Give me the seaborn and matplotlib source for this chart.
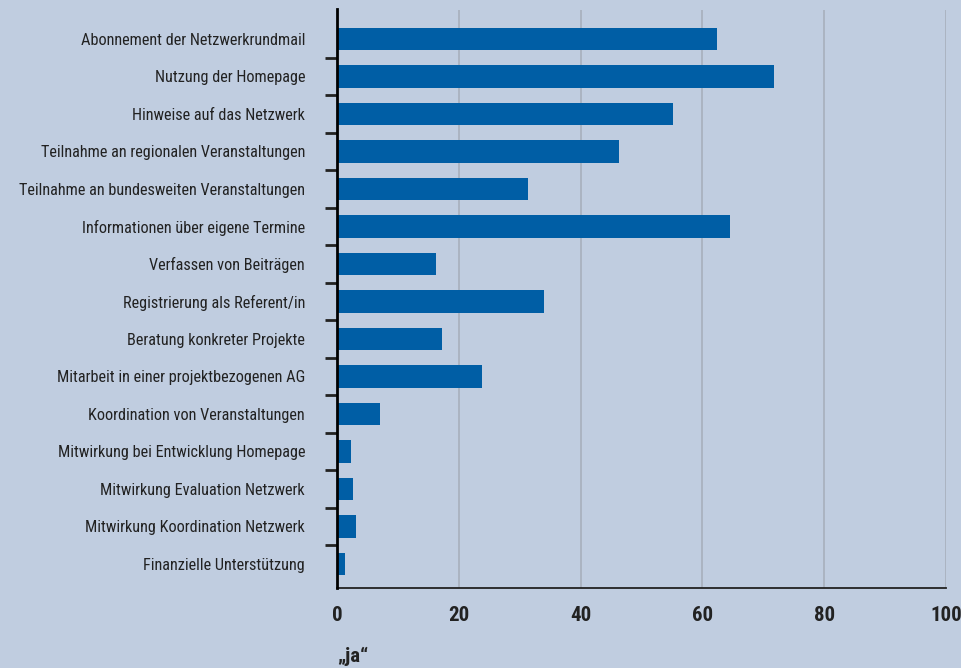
import matplotlib
matplotlib.use('Agg')
import matplotlib.pyplot as plt
from matplotlib import font_manager
import seaborn as sns
import pandas as pd

# Categories and share of "ja" answers (in percent)
categories = [
    'Abonnement der Netzwerkrundmail',
    'Nutzung der Homepage',
    'Hinweise auf das Netzwerk',
    'Teilnahme an regionalen Veranstaltungen',
    'Teilnahme an bundesweiten Veranstaltungen',
    'Informationen über eigene Termine',
    'Verfassen von Beiträgen',
    'Registrierung als Referent/in',
    'Beratung konkreter Projekte',
    'Mitarbeit in einer projektbezogenen AG',
    'Koordination von Veranstaltungen',
    'Mitwirkung bei Entwicklung Homepage',
    'Mitwirkung Evaluation Netzwerk',
    'Mitwirkung Koordination Netzwerk',
    'Finanzielle Unterstützung',
]
values = [62.4, 71.8, 55.2, 46.3, 31.4, 64.5, 16.3, 34.0, 17.2, 23.8, 7.1, 2.3, 2.6, 3.1, 1.3]
x_ticks = [0, 20, 40, 60, 80, 100]

df = pd.DataFrame({'kategorie': categories, 'ja': values})

bg = '#c0cde0'
bar_color = '#005ea5'
grid_color = '#a7b0bc'
text_color = '#222222'

sns.set_style('white')

# pick a narrow font if one is there
fonts = font_manager.fontManager.ttflist
names = {f.name for f in fonts}
stretch = 'normal'
if 'Roboto Condensed' in names:
    family = 'Roboto Condensed'
elif 'Liberation Sans Narrow' in names:
    family = 'Liberation Sans Narrow'
elif any(f.name == 'DejaVu Sans' and f.stretch == 'condensed' for f in fonts):
    family = 'DejaVu Sans'
    stretch = 'condensed'
else:
    family = 'Roboto'
plt.rcParams['font.family'] = [family, 'DejaVu Sans']
plt.rcParams['font.stretch'] = stretch

fig = plt.figure(figsize=(9.61, 6.68), dpi=100, facecolor=bg)
ax = fig.add_axes([0.3507, 0.1198, 0.6337, 0.8652])
ax.set_facecolor(bg)

sns.barplot(data=df, x='ja', y='kategorie', color=bar_color, width=0.6,
            saturation=1, linewidth=0, edgecolor='none', ax=ax, zorder=3)

ax.set_xlim(0, 100)
ax.set_ylim(14.64, -0.77)
ax.set_xticks(x_ticks)
ax.set_xticklabels([str(t) for t in x_ticks], fontsize=15, fontweight='bold', color=text_color)
ax.grid(axis='x', color=grid_color, linewidth=1.2, zorder=0)
ax.grid(axis='y', visible=False)

for s in ['top', 'right']:
    ax.spines[s].set_visible(False)
ax.spines['left'].set_color('black')
ax.spines['left'].set_linewidth(2)
ax.spines['left'].set_zorder(5)
ax.spines['bottom'].set_color(text_color)
ax.spines['bottom'].set_linewidth(1.3)
ax.spines['left'].set_bounds(14.64, -0.8)

ax.tick_params(axis='x', length=9, width=1.2, color=grid_color, pad=4)
ax.xaxis.get_major_ticks()[0].tick1line.set_color('black')
ax.xaxis.get_major_ticks()[0].tick1line.set_markeredgewidth(2.5)

ax.tick_params(axis='y', which='major', length=0, pad=23, labelsize=11, labelcolor=text_color)
ax.set_yticks([i + 0.5 for i in range(len(categories) - 1)], minor=True)
ax.tick_params(axis='y', which='minor', length=9, width=2, color=text_color, left=True)

ax.set_xlabel('')
ax.set_ylabel('')

fig.text(0.351, 0.009, '„ja“', fontsize=15, fontweight='bold', color=text_color)

# fit the category label size to the width in the reference
fig.canvas.draw()
r = fig.canvas.get_renderer()
w = ax.get_yticklabels()[4].get_window_extent(r).width
ax.tick_params(axis='y', which='major', labelsize=11 * 287 / w)

fig.savefig('out.png', dpi=100, facecolor=bg)
